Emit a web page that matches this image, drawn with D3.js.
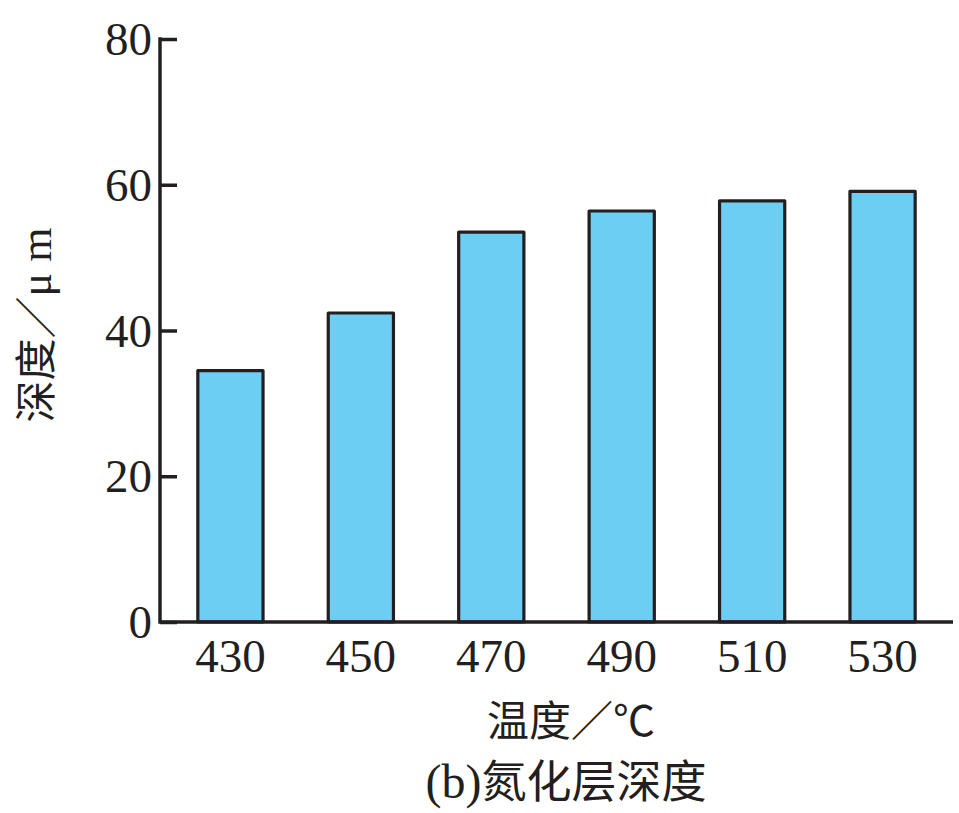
<!DOCTYPE html>
<html>
<head>
<meta charset="utf-8">
<script src="https://cdn.jsdelivr.net/npm/d3@7"></script>
<style>
  html, body { margin: 0; padding: 0; background: #ffffff; }
  svg { display: block; }
</style>
</head>
<body>
<script>
const categories = ["430", "450", "470", "490", "510", "530"];
const depthValues = [34.5, 42.4, 53.5, 56.4, 57.8, 59.1];
const yTicks = [0, 20, 40, 60, 80];
const xTitle = "温度／℃";
const yTitleCJK = "深度／";
const yTitleUnit = "μ m";
const captionPrefix = "(b)";
const captionText = "氮化层深度";

const W = 959, H = 813;
const svg = d3.select("body").append("svg").attr("width", W).attr("height", H);

const x = d3.scaleBand().domain(categories).range([160, 953])
  .paddingInner(0.5).paddingOuter(0.29);
const y = d3.scaleLinear().domain([0, 80]).range([622, 39]);

const serif = "'Liberation Serif', 'Times New Roman', serif";
const cjk = "'Noto Sans CJK SC', 'Liberation Serif', serif";

// bars
svg.append("g").selectAll("rect").data(depthValues).join("rect")
  .attr("x", (d, i) => x(categories[i]))
  .attr("y", d => y(d))
  .attr("width", x.bandwidth())
  .attr("height", d => y(0) - y(d))
  .attr("fill", "#6dcef4")
  .attr("stroke", "#231f20")
  .attr("stroke-width", 3.2)
  .attr("stroke-linejoin", "round");

// y axis
const yAxis = svg.append("g").attr("transform", "translate(160,0)")
  .call(d3.axisRight(y).tickValues(yTicks).tickSize(17).tickFormat(""));
yAxis.select(".domain").remove();
yAxis.selectAll(".tick line").attr("stroke", "#231f20").attr("stroke-width", 3.5);
svg.append("line").attr("x1", 160).attr("x2", 160).attr("y1", y(80) - 1.75).attr("y2", y(0) + 1.75)
  .attr("stroke", "#231f20").attr("stroke-width", 3.5);
svg.append("g").selectAll("text").data(yTicks).join("text")
  .attr("x", 152).attr("y", d => y(d) + 16)
  .attr("text-anchor", "end")
  .attr("font-family", serif).attr("font-size", 47).attr("fill", "#231f20")
  .text(d => d);

// x axis
const xAxis = svg.append("g").attr("transform", `translate(0,${y(0)})`)
  .call(d3.axisBottom(x).tickSize(0).tickPadding(0));
xAxis.select(".domain").remove();
xAxis.selectAll(".tick text").remove();
svg.append("line").attr("x1", 160).attr("x2", 953).attr("y1", y(0)).attr("y2", y(0))
  .attr("stroke", "#231f20").attr("stroke-width", 3.5);
svg.append("g").selectAll("text").data(categories).join("text")
  .attr("x", d => x(d) + x.bandwidth() / 2).attr("y", 672)
  .attr("text-anchor", "middle")
  .attr("font-family", serif).attr("font-size", 47).attr("fill", "#231f20")
  .text(d => d);

// titles
svg.append("text").attr("x", 571).attr("y", 736).attr("text-anchor", "middle")
  .attr("font-family", cjk).attr("font-size", 42).attr("fill", "#231f20").text(xTitle);
const cap = svg.append("text").attr("x", 566).attr("y", 798).attr("text-anchor", "middle")
  .attr("font-size", 45).attr("fill", "#231f20");
cap.append("tspan").attr("font-family", serif).attr("font-size", 48).text(captionPrefix);
cap.append("tspan").attr("font-family", cjk).text(captionText);
const yt = svg.append("text").attr("transform", "translate(51,325) rotate(-90)").attr("text-anchor", "middle")
  .attr("font-size", 42).attr("fill", "#231f20");
yt.append("tspan").attr("font-family", cjk).text(yTitleCJK);
yt.append("tspan").attr("font-family", serif).attr("font-size", 44).text(yTitleUnit);
</script>
</body>
</html>
